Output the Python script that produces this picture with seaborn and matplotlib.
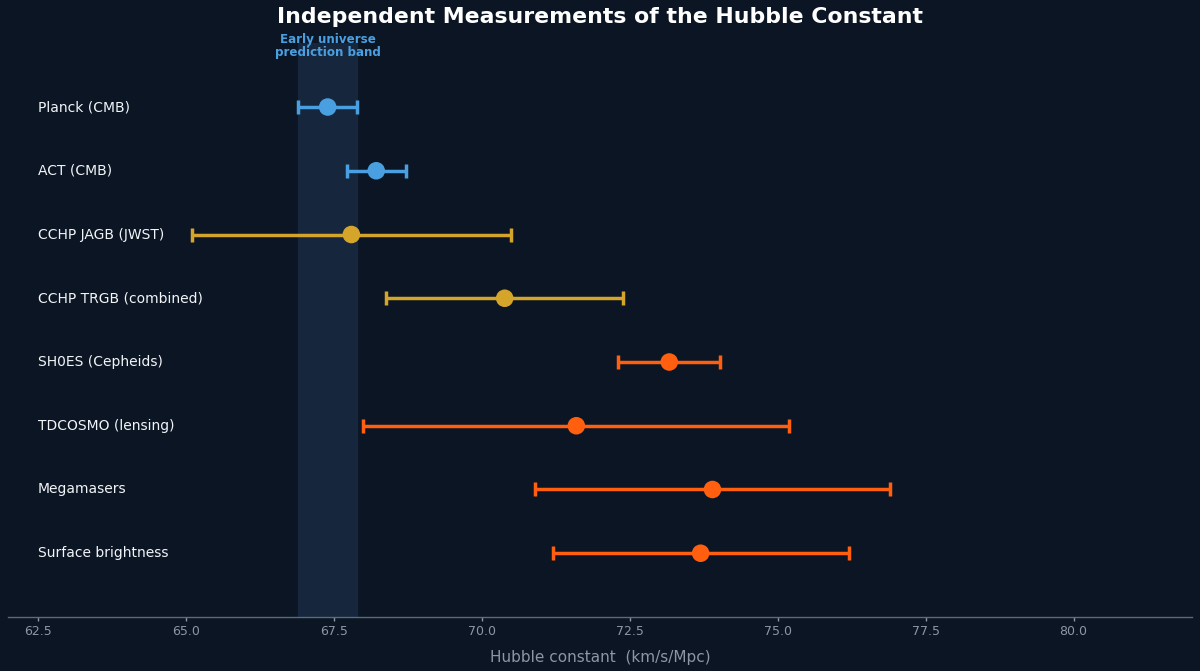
import matplotlib
matplotlib.use("Agg")
import matplotlib.pyplot as plt
import seaborn as sns
import pandas as pd

methods = ["Planck (CMB)", "ACT (CMB)", "CCHP JAGB (JWST)", "CCHP TRGB (combined)",
           "SH0ES (Cepheids)", "TDCOSMO (lensing)", "Megamasers", "Surface brightness"]
h0 = [67.4, 68.22, 67.8, 70.39, 73.17, 71.6, 73.9, 73.7]
err = [0.5, 0.5, 2.7, 2.0, 0.86, 3.6, 3.0, 2.5]
group = ["early", "early", "cchp", "cchp", "late", "late", "late", "late"]
band = [66.9, 67.9]
xticks = [62.5, 65.0, 67.5, 70.0, 72.5, 75.0, 77.5, 80.0]

palette = {"early": "#4a9fe0", "cchp": "#d4a52a", "late": "#ff5f0f"}
bg = "#0b1523"

df = pd.DataFrame({"method": methods, "h0": h0, "err": err, "group": group,
                   "pos": range(len(methods))})

sns.set_theme(style="dark", font="DejaVu Sans")
plt.rcParams["font.family"] = ["DejaVu Sans"]
fig = plt.figure(figsize=(12, 6.71), dpi=100, facecolor=bg)
ax = fig.add_axes([0.0067, 0.0805, 0.9866, 0.855])
ax.set_facecolor(bg)

ax.axvspan(band[0], band[1], color="#15263d", zorder=0)

for _, r in df.iterrows():
    ax.errorbar(r["h0"], r["pos"], xerr=r["err"], fmt="none",
                ecolor=palette[r["group"]], elinewidth=2.5, capsize=5, capthick=2.5, zorder=2)

sns.scatterplot(data=df, x="h0", y="pos", hue="group", palette=palette, s=160,
                edgecolor="none", legend=False, ax=ax, zorder=3)

for _, r in df.iterrows():
    ax.text(62.5, r["pos"], r["method"], color="#f2f5f8", fontsize=10, va="center", ha="left",
            family="DejaVu Sans")

ax.text(sum(band) / 2, -0.96, "Early universe\nprediction band", color="#4a9fe0",
        fontsize=8.6, fontweight="bold", ha="center", va="center", linespacing=1.0,
        family="DejaVu Sans")

ax.set_xlim(62.0, 82.0)
ax.set_ylim(8.0, -1.0)
ax.set_yticks([])
ax.set_xticks(xticks)
ax.set_xticklabels([f"{t:.1f}" for t in xticks], family="DejaVu Sans")
ax.tick_params(axis="x", colors="#8b97a5", labelsize=9, length=3, width=1, bottom=True, pad=3)
ax.set_xlabel("Hubble constant  (km/s/Mpc)", color="#8b97a5", fontsize=11, labelpad=8.5,
              family="DejaVu Sans")
ax.set_ylabel("")
for s in ["top", "right", "left"]:
    ax.spines[s].set_visible(False)
ax.spines["bottom"].set_color("#5c6b7c")
ax.spines["bottom"].set_linewidth(1)
ax.grid(False)

fig.text(0.5, 0.974, "Independent Measurements of the Hubble Constant", color="white",
         fontsize=15.8, fontweight="bold", ha="center", va="center", family="DejaVu Sans")

fig.savefig("out.png", dpi=100, facecolor=bg)
